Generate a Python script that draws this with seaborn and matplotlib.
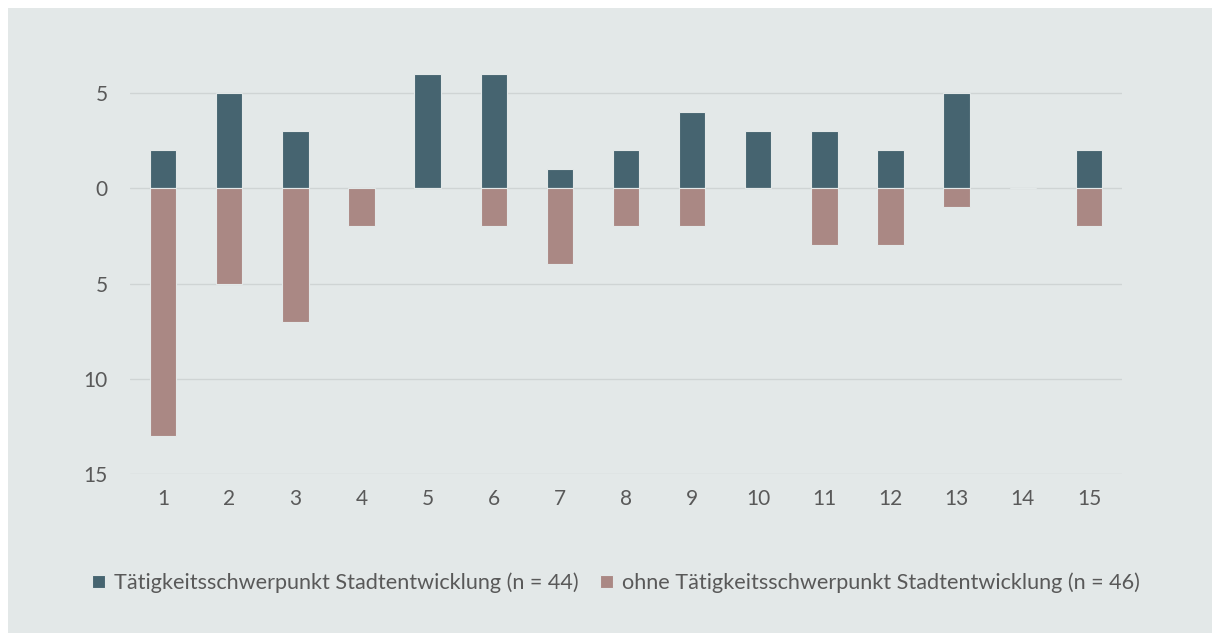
import matplotlib
matplotlib.use("Agg")
import matplotlib.pyplot as plt
from matplotlib.patches import Rectangle
import seaborn as sns
import pandas as pd

# Daten
kategorien = [str(i) for i in range(1, 16)]
mit_schwerpunkt = [2, 5, 3, 0, 6, 6, 1, 2, 4, 3, 3, 2, 5, 0, 2]
ohne_schwerpunkt = [13, 5, 7, 2, 0, 2, 4, 2, 2, 0, 3, 3, 1, 0, 2]
label_mit = "Tätigkeitsschwerpunkt Stadtentwicklung (n = 44)"
label_ohne = "ohne Tätigkeitsschwerpunkt Stadtentwicklung (n = 46)"
y_ticks = [5, 0, -5, -10, -15]

farbe_mit = "#3f6777"
farbe_ohne = "#b0837e"
hintergrund = "#e3e8e8"
text_farbe = "#595959"

sns.set_theme(style="white")
plt.rcParams['font.family'] = ['Lato', 'DejaVu Sans']

df = pd.DataFrame({
    "kategorie": kategorien * 2,
    "wert": mit_schwerpunkt + [-v for v in ohne_schwerpunkt],
    "gruppe": [label_mit] * 15 + [label_ohne] * 15,
})

fig = plt.figure(figsize=(12.14, 6.33), dpi=100, facecolor="white")
# grauer Hintergrund mit schmalem weissen Rand oben/links
fig.patches.append(Rectangle((8 / 1214, 0), 1 - 10 / 1214, 1 - 8 / 633,
                             transform=fig.transFigure, facecolor=hintergrund,
                             edgecolor="none", zorder=-10))
ax = fig.add_axes([130 / 1214, 1 - 474 / 633, (1122 - 130) / 1214, (474 - 55) / 633])
ax.set_facecolor(hintergrund)

sns.barplot(data=df, x="kategorie", y="wert", hue="gruppe", dodge=False,
            palette=[farbe_mit, farbe_ohne], width=0.4, ax=ax,
            edgecolor=hintergrund, linewidth=0.8, legend=True)

ax.set_ylim(-15, 7)
ax.set_xlim(-0.5, 14.5)
ax.set_yticks(y_ticks)
ax.set_yticklabels([str(abs(t)) for t in y_ticks])
ax.yaxis.grid(True, color="#cfd4d4", linewidth=1)
ax.set_axisbelow(True)
for s in ax.spines.values():
    s.set_visible(False)
ax.tick_params(axis="both", length=0, labelsize=15, colors=text_farbe)
ax.tick_params(axis="y", pad=16)
ax.tick_params(axis="x", pad=11)
ax.set_xlabel("")
ax.set_ylabel("")

handles, labels = ax.get_legend_handles_labels()
ax.legend(handles, labels, loc="center", bbox_to_anchor=(0.49, -0.26),
          ncol=2, frameon=False, fontsize=15.6, labelcolor=text_farbe,
          handlelength=0.6, handleheight=0.6, handletextpad=0.4, columnspacing=1.0)

fig.savefig("out.png", dpi=100, facecolor=fig.get_facecolor())
